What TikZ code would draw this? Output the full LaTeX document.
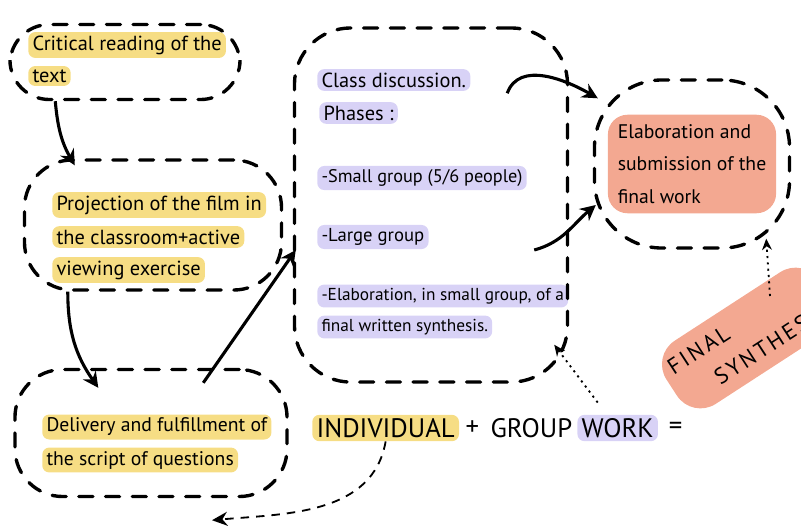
\documentclass[tikz,border=0pt]{standalone}
\usepackage{fontspec}
\setmainfont{PT Sans}
\usetikzlibrary{positioning,calc,arrows.meta}

\begin{document}
\begin{tikzpicture}[
    x=0.025cm, y=0.025cm,
    every node/.style={
        font=\fontsize{14.5}{17}\selectfont,
        text=black
    },
    line/.style={anchor=west, inner xsep=3pt, inner ysep=2.5pt, rounded corners=5pt},
    hly/.style={line, fill=markYellow},
    hlp/.style={line, fill=markPurple},
    warm/.style={fill=markSalmon, rounded corners=14pt, inner sep=7pt},
    caps/.style={font=\fontsize{19}{22}\selectfont},
    blob/.style={draw, line width=2.4pt, line cap=round, dash pattern=on 10pt off 9pt},
    flow/.style={->, line width=2.2pt, >={Stealth[length=11pt, width=11pt]}},
    hint/.style={->, line width=1.3pt, dash pattern=on 1.5pt off 3pt, >={Stealth[length=8pt, width=7pt]}},
    loose/.style={->, line width=1.3pt, dash pattern=on 6pt off 5pt, >={Stealth[length=11pt, width=10pt]}}
]

% colours
\definecolor{markYellow}{RGB}{246,221,132}
\definecolor{markPurple}{RGB}{216,210,246}
\definecolor{markSalmon}{RGB}{243,168,145}

\useasboundingbox (0,-527) rectangle (801,0);
\clip (0,-527) rectangle (801,0);

% left column
\node[hly] (crit1) at (28,-45) {Critical reading of the};
\node[hly] (crit2) at (28,-76) {text\hspace{1.6em}};
\node[blob, rounded corners=28pt, minimum width=5.75cm, minimum height=1.875cm] (crit) at (125,-62) {};

\node[hly] (proj1) at (52,-205) {Projection of the film in};
\node[hly] (proj2) at (52,-237) {the classroom+active};
\node[hly] (proj3) at (52,-270) {viewing exercise};
\node[blob, rounded corners=34pt, minimum width=6.425cm, minimum height=3.25cm] (proj) at (153,-225) {};

\node[hly, font=\fontsize{14}{17}\selectfont] (deliv1) at (42,-427) {Delivery and fulfillment of};
\node[hly, font=\fontsize{14}{17}\selectfont] (deliv2) at (42,-460) {the script of questions};
\node[blob, rounded corners=34pt, minimum width=6.8cm, minimum height=3.175cm] (deliv) at (151,-433) {};

% discussion
\node[hlp] (disc1) at (317,-80) {Class discussion.};
\node[hlp] (disc2) at (319,-113) {Phases :};
\node[hlp, font=\fontsize{13}{16}\selectfont] (small) at (317,-178) {-Small group (5/6 people)};
\node[hlp, font=\fontsize{13.3}{16}\selectfont] (large) at (317,-237) {-Large group};
\node[hlp, font=\fontsize{12.3}{15}\selectfont] (synth1) at (317,-296) {-Elaboration, in small group, of a};
\node[hlp, font=\fontsize{12.3}{15}\selectfont] (synth2) at (317,-327) {final written synthesis.};
\node[blob, rounded corners=40pt, minimum width=6.825cm, minimum height=8.85cm] (disc) at (431,-205) {};

% final work
\node[warm, align=left, font=\fontsize{14}{23}\selectfont] (work) at (692,-164) {Elaboration and\\submission of the\\final work};
\node[blob, rounded corners=48pt, minimum width=4.875cm, minimum height=4.2cm] (final) at (692,-164) {};

% equation
\node[hly, caps] (ind) at (312,-428) {INDIVIDUAL};
\node[caps, right=1pt of ind] (plus) {+};
\node[caps, right=1pt of plus] (grp) {GROUP};
\node[hlp, caps, right=0pt of grp] (wrk) {WORK};
\node[caps, right=4pt of wrk] (eq) {=};
\node[warm, rotate=33, align=left, inner xsep=6pt, inner ysep=9pt, rounded corners=20pt,
      font=\fontsize{16}{24}\selectfont\addfontfeature{LetterSpace=12}] (syn) at (748,-338) {FINAL\\\hspace{1.5em}SYNTHESIS};
\coordinate (synTop) at (770,-296);

% arrows
\draw[flow] ($(crit.south west)+(47,0)$) to[out=-85, in=120] ($(proj.north west)+(52,-7)$);
\draw[flow] ($(proj.south west)+(45,0)$) to[out=-90, in=125] ($(deliv.north west)+(85,-20)$);
\draw[flow] ($(deliv.north west)+(190,-15)$) -- ($(disc.west)+(3,-45)$);
\draw[flow] ($(disc.north east)+(-62,-67)$) to[out=70, in=150] ($(final.north west)+(5,-20)$);
\draw[flow] ($(disc.east)+(-35,-45)$) to[out=15, in=220] ($(final.west)+(3,-41)$);

\draw[hint] ($(wrk.north)+(-20,12)$) -- ($(disc.south east)+(-15,39)$);
\draw[hint] (synTop) -- ($(final.south east)+(-25,11)$);
\draw[loose] (ind.south) to[out=-100, in=5] ($(deliv.south)+(61,-22)$);

\end{tikzpicture}
\end{document}
